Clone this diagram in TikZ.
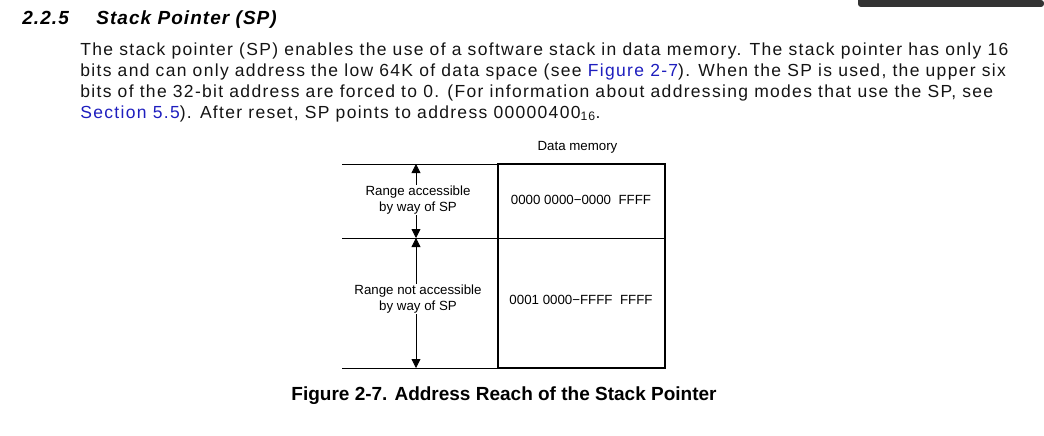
\documentclass[tikz,border=0pt]{standalone}
\usepackage{fontspec}
\setmainfont{Liberation Sans}
\newfontfamily\parafont[LetterSpace=7.5]{Liberation Sans}
\newfontfamily\headfont[LetterSpace=5.5]{Liberation Sans}
\usetikzlibrary{arrows.meta}
\definecolor{linkblue}{RGB}{30,30,190}
\definecolor{bardark}{RGB}{51,51,51}
\definecolor{textblack}{RGB}{20,20,20}

\tikzset{
  paraline/.style={anchor=base west, inner sep=0pt, text=textblack, font=\parafont\fontsize{17.5}{20}\selectfont},
  headtext/.style={anchor=base west, inner sep=0pt, font=\headfont\fontsize{19}{22}\selectfont\bfseries\itshape},
  figtext/.style={font=\fontsize{13.3}{15.5}\selectfont},
  sidelabel/.style={figtext, align=center, fill=white, inner sep=1pt},
  reach/.style={line width=.8pt, {Triangle[length=9pt,width=9pt]}-{Triangle[length=9pt,width=9pt]}}
}

\begin{document}
\begin{tikzpicture}[x=1pt, y=-1pt, line width=.8pt]
	\useasboundingbox (0,0) rectangle (1044,436);
	\fill[bardark] (1044,0) -- (858,0) [rounded corners=3pt] -- (858,7) -- (1044,7) -- cycle;
	\node[headtext] (secnum) at (22,25) {2.2.5};
	\node[headtext] (sectitle) at (96,25) {Stack Pointer (SP)};
	\node[paraline] (line1) at (80,56) {The stack pointer (SP) enables the use of a software stack in data memory. The stack pointer has only 16};
	\node[paraline] (line2) at (80,77) {bits and can only address the low 64K of data space (see \textcolor{linkblue}{Figure 2-7}). When the SP is used, the upper six};
	\node[paraline] (line3) at (80,97.5) {bits of the 32-bit address are forced to 0. (For information about addressing modes that use the SP, see};
	\node[paraline] (line4) at (80,118) {\textcolor{linkblue}{Section 5.5}). After reset, SP points to address 00000400\textsubscript{16}.};
	\coordinate (topL) at (342,164);
	\coordinate (midL) at (342,238);
	\coordinate (botL) at (342,368);
	\coordinate (topR) at (665,164);
	\coordinate (midR) at (665,238);
	\coordinate (botR) at (665,368);
	\coordinate (memTL) at (498,164);
	\coordinate (memBR) at (665,368);
	\coordinate (arrTop) at (416,164);
	\coordinate (arrMid) at (416,238);
	\coordinate (arrBot) at (416,368);
	\draw (topL) -- (topR);
	\draw (midL) -- (midR);
	\draw (botL) -- (botR);
	\draw[line width=1.6pt] (memTL) rectangle (memBR);
	\draw[reach] (arrTop) -- (arrMid);
	\draw[reach] (arrMid) -- (arrBot);
	\node[sidelabel] (accLabel) at (418,200) {Range accessible\\by way of SP};
	\node[sidelabel] (noaccLabel) at (418,299) {Range not accessible\\by way of SP};
	\node[figtext] (memTitle) at (577.5,147) {Data memory};
	\node[figtext] (lowRange) at (581,200) {0000 0000−0000\ \ FFFF};
	\node[figtext] (highRange) at (581,300) {0001 0000−FFFF\ \ FFFF};
	\node[anchor=base, inner sep=0pt, font=\fontsize{19}{22}\selectfont\bfseries] (caption) at (504,400) {Figure 2-7. Address Reach of the Stack Pointer};
\end{tikzpicture}
\end{document}
